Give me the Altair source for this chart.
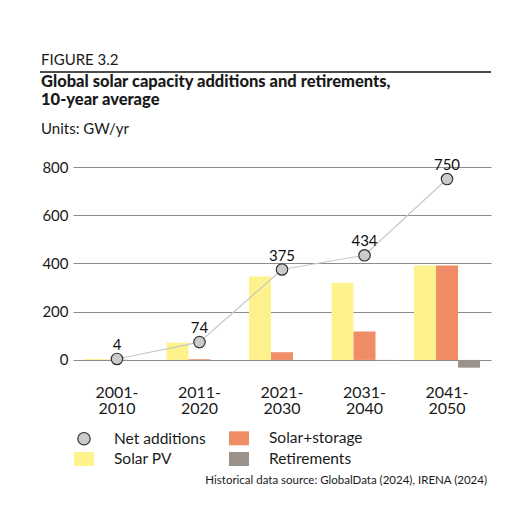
import altair as alt
import pandas as pd

periods = ["2001-2010", "2011-2020", "2021-2030", "2031-2040", "2041-2050"]
solar_pv = [4, 72, 346, 320, 392]
solar_storage = [1, 3, 32, 118, 392]
retirements = [0, 0, 0, -3, -32]
net_additions = [4, 74, 375, 434, 750]

series_order = ["Net additions", "Solar+storage", "Solar PV", "Retirements"]
bar_series = ["Solar PV", "Solar+storage", "Retirements"]
colors = ["#cbcbcb", "#f08d67", "#fdf28b", "#9b938b"]

rows = []
for i, p in enumerate(periods):
    for s, vals in zip(bar_series, [solar_pv, solar_storage, retirements]):
        rows.append({"period": p, "series": s, "value": vals[i]})
bars_df = pd.DataFrame(rows)
net_df = pd.DataFrame({"period": periods, "value": net_additions, "series": "Net additions"})

FONT = "Lato"
W, H = 418, 205
TXT = "#1a1a1a"

x_enc = alt.X("period:N", sort=periods,
              scale=alt.Scale(paddingInner=0.2, paddingOuter=0.133),
              axis=alt.Axis(title=None, labelAngle=0, ticks=False, domain=False,
                            labelFontSize=16, labelColor=TXT, labelPadding=25,
                            labelBaseline="alphabetic", labelLineHeight=16.5, labelFont=FONT,
                            labelExpr="[slice(datum.label,0,5), slice(datum.label,5)]"))
y_scale = alt.Scale(domain=[-50, 800], nice=False, zero=True)
y_axis = alt.Axis(values=[0, 200, 400, 600, 800], title=None,
                  labelFontSize=15, labelColor=TXT, labelFont=FONT, labelPadding=5,
                  ticks=False, domain=False, gridColor="#8c8c8c", gridWidth=1)

color_scale = alt.Scale(domain=series_order, range=colors)
rect_path = "M-1,-0.7H1V0.7H-1Z"
circle_path = "M0.62,0A0.62,0.62 0 1,1 -0.62,0A0.62,0.62 0 1,1 0.62,0Z"

bars = alt.Chart(bars_df).mark_bar().encode(
    x=x_enc,
    xOffset=alt.XOffset("series:N", sort=bar_series, scale=alt.Scale(domain=bar_series, paddingInner=0)),
    y=alt.Y("value:Q", scale=y_scale, axis=y_axis),
    color=alt.Color("series:N", scale=color_scale,
                    legend=alt.Legend(title=None, orient="none", legendX=0, legendY=260,
                                      direction="horizontal", columns=2, columnPadding=20,
                                      rowPadding=-1, padding=0,
                                      labelFontSize=15.5, labelFont=FONT, labelColor=TXT,
                                      labelOffset=19, symbolSize=400, symbolStrokeWidth=1.2)),
)

line = alt.Chart(net_df).mark_line(color="#c8c8c8", strokeWidth=1.2).encode(
    x=alt.X("period:N", sort=periods),
    y=alt.Y("value:Q"),
)

pts = alt.Chart(net_df).mark_point(filled=True, opacity=1, size=340, strokeWidth=1.2).encode(
    x=alt.X("period:N", sort=periods),
    y=alt.Y("value:Q"),
    color=alt.Color("series:N", scale=color_scale),
    shape=alt.Shape("series:N", scale=alt.Scale(domain=series_order,
                                                range=[circle_path, rect_path, rect_path, rect_path])),
    stroke=alt.Stroke("series:N", scale=alt.Scale(domain=series_order,
                                                  range=["#333333", "transparent", "transparent", "transparent"])),
)

labels = alt.Chart(net_df).mark_text(dy=-9, baseline="alphabetic", fontSize=15, font=FONT,
                                     color="#111").encode(
    x=alt.X("period:N", sort=periods),
    y=alt.Y("value:Q"),
    text=alt.Text("value:Q"),
)

one = pd.DataFrame({"k": [0]})

def txt(s, x, y, size, weight="normal", align="left"):
    return alt.Chart(one).mark_text(text=s, align=align, baseline="alphabetic", fontSize=size,
                                    fontWeight=weight, font=FONT, color=TXT).encode(
        x=alt.value(x), y=alt.value(y))

fig_label = txt("FIGURE 3.2", -32, -102, 15)
title1 = txt("Global solar capacity additions and retirements,", -32, -80, 16.5, 900)
title2 = txt("10-year average", -32, -62, 16.5, 900)
units = txt("Units: GW/yr", -32, -33, 15)
source = txt("Historical data source: GlobalData (2024), IRENA (2024)", 414, 317, 11.5, align="right")

rule = alt.Chart(one).mark_rule(color="#111", strokeWidth=1.5).encode(
    x=alt.value(-33), x2=alt.value(W), y=alt.value(-95))

chart = alt.layer(bars, line, pts, labels, fig_label, title1, title2, units, source, rule).resolve_scale(
    color="shared"
).properties(
    width=W, height=H,
    autosize=alt.AutoSizeParams(type="none"),
    padding={"left": 65, "top": 159, "right": 25, "bottom": 140},
).configure_view(stroke=None).configure_axisY(grid=True).configure_axisX(grid=False)

chart.save("out.html", embed_options={"renderer": "svg", "actions": False})
